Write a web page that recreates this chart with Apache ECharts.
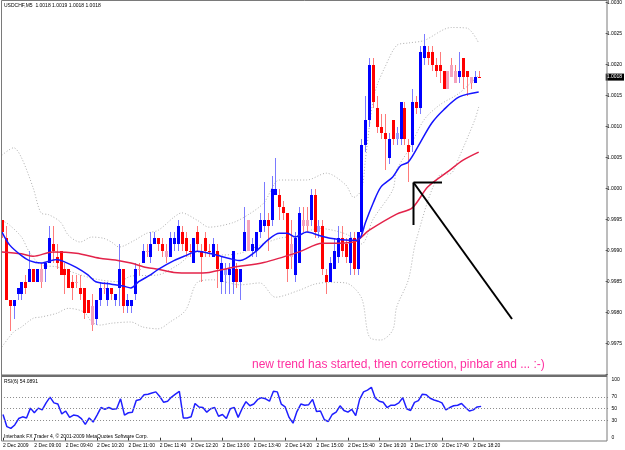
<!DOCTYPE html>
<html><head><meta charset="utf-8">
<script src="https://cdn.jsdelivr.net/npm/echarts@6/dist/echarts.min.js"></script>
<style>html,body{margin:0;padding:0;background:#fff}#c{width:625px;height:450px}</style>
</head><body><div id="c"></div>
<script>
// ---------- data ----------
const symbolName = 'USDCHF,M5';
const xTickLabels = ['2 Dec 2009','2 Dec 09:00','2 Dec 09:40','2 Dec 10:20','2 Dec 11:00','2 Dec 11:40','2 Dec 12:20','2 Dec 13:00','2 Dec 13:40','2 Dec 14:20','2 Dec 15:00','2 Dec 15:40','2 Dec 16:20','2 Dec 17:00','2 Dec 17:40','2 Dec 18:20'];
const opens = [0.9995,0.9992,0.9982,0.9981,0.9983,0.9983,0.9985,0.9985,0.9987,0.9985,0.9987,0.9987,0.9988,0.9991,0.9989,0.9990,0.9987,0.9987,0.9985,0.9985,
0.9984,0.9984,0.9982,0.9981,0.9979,0.9982,0.9984,0.9982,0.9984,0.9982,0.9984,0.9987,0.9981,0.9981,0.9983,0.9987,0.9988,0.9990,0.9989,0.9991,
0.9992,0.9991,0.9990,0.9989,0.9991,0.9991,0.9993,0.9992,0.9990,0.9988,0.9993,0.9990,0.9992,0.9990,0.9989,0.9990,0.9985,0.9986,0.9986,0.9985,
0.9987,0.9985,0.9990,0.9995,0.9990,0.9990,0.9993,0.9994,0.9995,0.9995,0.9999,0.9999,0.9997,0.9996,0.9991,0.9986,0.9988,0.9995,0.9995,0.9995,
0.9999,0.9993,0.9994,0.9986,0.9985,0.9987,0.9989,0.9992,0.9991,0.9988,0.9992,0.9987,0.9993,1.0007,1.0011,1.0020,1.0013,1.0010,1.0009,1.0005,
1.0011,1.0008,1.0008,1.0013,1.0007,1.0007,1.0014,1.0013,1.0021,1.0022,1.0022,1.0020,1.0020,1.0019,1.0019,1.0020,1.0019,1.0018,1.0021,1.0019,
1.0018,1.0017,1.0018];
const highs = [0.9995,0.9994,0.9982,0.9982,0.9984,0.9985,0.9986,0.9990,0.9987,0.9987,0.9988,0.9988,0.9994,0.9994,0.9991,0.9990,0.9988,0.9987,0.9986,0.9986,
0.9986,0.9984,0.9982,0.9983,0.9982,0.9985,0.9985,0.9985,0.9984,0.9983,0.9991,0.9987,0.9983,0.9982,0.9988,0.9988,0.9991,0.9991,0.9993,0.9993,
0.9992,0.9992,0.9991,0.9993,0.9993,0.9995,0.9994,0.9993,0.9991,0.9992,0.9994,0.9991,0.9993,0.9991,0.9992,0.9991,0.9989,0.9988,0.9988,0.9990,
0.9988,0.9987,0.9997,0.9995,0.9992,0.9993,0.9996,1.0001,0.9996,1.0002,1.0005,1.0000,0.9998,0.9996,0.9995,0.9993,0.9997,0.9997,0.9997,1.0000,
1.0000,0.9995,0.9995,0.9987,0.9989,0.9992,0.9994,0.9994,0.9992,0.9993,0.9993,0.9993,1.0008,1.0015,1.0021,1.0021,1.0015,1.0012,1.0012,1.0009,
1.0011,1.0010,1.0014,1.0014,1.0008,1.0016,1.0015,1.0023,1.0025,1.0023,1.0023,1.0021,1.0022,1.0019,1.0019,1.0021,1.0020,1.0022,1.0021,1.0019,
1.0018,1.0019,1.0019];
const lows = [0.9992,0.9982,0.9977,0.9979,0.9982,0.9982,0.9983,0.9985,0.9985,0.9985,0.9984,0.9985,0.9988,0.9988,0.9987,0.9986,0.9983,0.9984,0.9982,0.9984,
0.9982,0.9979,0.9980,0.9977,0.9978,0.9981,0.9983,0.9981,0.9982,0.9981,0.9981,0.9980,0.9980,0.9980,0.9982,0.9986,0.9988,0.9989,0.9988,0.9991,
0.9990,0.9989,0.9988,0.9989,0.9990,0.9990,0.9990,0.9989,0.9989,0.9988,0.9990,0.9985,0.9989,0.9989,0.9989,0.9984,0.9983,0.9983,0.9983,0.9983,
0.9984,0.9982,0.9990,0.9990,0.9989,0.9989,0.9992,0.9993,0.9990,0.9994,0.9999,0.9995,0.9995,0.9985,0.9987,0.9985,0.9988,0.9993,0.9993,0.9994,
0.9992,0.9992,0.9986,0.9983,0.9985,0.9987,0.9988,0.9989,0.9988,0.9986,0.9986,0.9986,0.9992,1.0006,1.0010,1.0013,1.0009,1.0008,1.0003,1.0004,
1.0007,1.0007,1.0007,1.0007,1.0001,1.0006,1.0012,1.0012,1.0020,1.0020,1.0019,1.0018,1.0017,1.0016,1.0016,1.0018,1.0017,1.0017,1.0016,1.0015,
1.0016,1.0017,1.0018];
const closes = [0.9993,0.9982,0.9981,0.9982,0.9984,0.9985,0.9984,0.9987,0.9985,0.9987,0.9985,0.9988,0.9992,0.9990,0.9988,0.9986,0.9986,0.9984,0.9984,0.9985,
0.9983,0.9980,0.9980,0.9978,0.9982,0.9984,0.9984,0.9984,0.9983,0.9983,0.9987,0.9981,0.9982,0.9982,0.9987,0.9987,0.9990,0.9990,0.9991,0.9992,
0.9991,0.9990,0.9989,0.9992,0.9992,0.9994,0.9991,0.9990,0.9990,0.9992,0.9991,0.9989,0.9990,0.9990,0.9991,0.9987,0.9988,0.9987,0.9987,0.9990,
0.9985,0.9987,0.9993,0.9990,0.9991,0.9993,0.9995,0.9995,0.9994,1.0000,1.0000,0.9997,0.9996,0.9987,0.9989,0.9992,0.9996,0.9994,0.9994,0.9999,
0.9993,0.9994,0.9987,0.9985,0.9988,0.9990,0.9992,0.9990,0.9989,0.9992,0.9987,0.9993,1.0007,1.0011,1.0020,1.0014,1.0010,1.0009,1.0008,1.0008,
1.0008,1.0009,1.0014,1.0008,1.0006,1.0014,1.0013,1.0022,1.0023,1.0021,1.0020,1.0019,1.0019,1.0016,1.0016,1.0018,1.0017,1.0019,1.0018,1.0018,
1.0017,1.0018,1.0018];
const paleBars = [10,19,23,26,35,37,42,57,63,74,77,78,81,101,114,115,116,120];

const maFast = [[0,0.99930],[2,0.99909],[5,0.99892],[7,0.99884],[10,0.99880],[14,0.99886],[16,0.99882],[19,0.99873],[22,0.99861],[24,0.99850],[28,0.99846],[31,0.99843],[33,0.99840],[35,0.99850],[38,0.99861],[40,0.99870],[44,0.99884],[47,0.99892],[50,0.99899],[53,0.99896],[56,0.99891],[59,0.99886],[61,0.99884],[65,0.99899],[68,0.99917],[71,0.99928],[73,0.99928],[75,0.99922],[78,0.99930],[81,0.99925],[84,0.99920],[89,0.99917],[91,0.99917],[92,0.99925],[93,0.99945],[95,0.99977],[97,1.00003],[100,1.00019],[102,1.00037],[104,1.00043],[107,1.00074],[110,1.00106],[113,1.00127],[117,1.00148],[122,1.00156]];
const maSlow = [[0,0.99898],[5,0.99895],[8,0.99891],[13,0.99898],[19,0.99896],[25,0.99888],[29,0.99885],[33,0.99880],[37,0.99873],[40,0.99870],[44,0.99865],[49,0.99864],[53,0.99865],[59,0.99873],[67,0.99881],[76,0.99898],[82,0.99912],[84,0.99912],[90,0.99914],[94,0.99933],[101,0.99959],[105,0.99969],[109,1.00003],[114,1.00027],[118,1.00046],[122,1.00059]];
const bandUpper = [[0,1.00054],[3,1.00066],[5,1.00050],[8,1.00001],[10,0.99961],[12,0.99958],[15,0.99946],[17,0.99925],[20,0.99914],[23,0.99922],[26,0.99920],[28,0.99914],[30,0.99906],[34,0.99917],[37,0.99928],[40,0.99933],[44,0.99954],[46,0.99961],[50,0.99949],[53,0.99938],[59,0.99945],[63,0.99958],[67,0.99977],[71,1.00014],[75,1.00014],[78,1.00014],[83,1.00025],[88,1.00006],[90,0.99986],[92,0.99998],[93,1.00046],[94,1.00099],[95,1.00143],[96,1.00167],[98,1.00196],[101,1.00231],[104,1.00235],[108,1.00239],[115,1.00260],[119,1.00259],[122,1.00235]];
const bandMiddle = [[0,0.99949],[2,0.99941],[5,0.99922],[7,0.99898],[10,0.99877],[14,0.99874],[20,0.99861],[25,0.99853],[30,0.99850],[33,0.99859],[40,0.99861],[45,0.99877],[50,0.99898],[56,0.99893],[61,0.99896],[66,0.99909],[71,0.99920],[76,0.99925],[81,0.99936],[88,0.99927],[92,0.99911],[95,0.99951],[100,0.99998],[101,1.00030],[104,1.00062],[108,1.00111],[112,1.00135],[117,1.00154],[122,1.00183]];
const bandLower = [[0,0.99745],[3,0.99769],[5,0.99777],[8,0.99791],[10,0.99793],[14,0.99799],[17,0.99807],[21,0.99801],[23,0.99785],[25,0.99780],[28,0.99783],[33,0.99785],[36,0.99777],[40,0.99774],[43,0.99785],[47,0.99804],[50,0.99849],[54,0.99853],[61,0.99845],[66,0.99848],[70,0.99825],[76,0.99836],[80,0.99846],[84,0.99849],[88,0.99848],[92,0.99824],[94,0.99761],[97,0.99756],[100,0.99772],[101,0.99809],[104,0.99853],[106,0.99917],[112,1.00022],[115,1.00025],[117,1.00051],[121,1.00111],[122,1.00132]];
const rsi = [40,19,16,22,33,36,34,51,43,51, 48,60,70,60,58,41,46,35,39,38, 33,23,34,27,39,52,49,52,49,50,
 67,39,43,44,64,66,74,75,77,79, 71,61,63,70,75,80,34,34,36,59, 53,52,44,50,52,37,40,33,50,52,
 35,50,62,55,58,66,69,67,63,80, 79,58,53,35,25,45,58,56,57,66, 45,46,31,28,40,44,55,47,44,49,
 38,66,79,82,87,68,63,61,52,56, 56,60,69,50,47,61,64,75,74,68, 65,63,60,48,52,55,56,59,52,46, 48,53,54];
const rsiLevels = [30,50,70];
const rsiAxisLabels = [0,30,50,70,100];
const rsiTitle = 'RSI(6) 54.0891';
const copyright = 'Interbank FX Trader 4, \u00a9 2001-2009 MetaQuotes Software Corp.';
const note = 'new trend has started, then correction, pinbar and ... :-)';

// ---------- chart ----------
const N = 155;
const cats = Array.from({length: N}, (_, i) => String(i));
const candleData = opens.map((o, i) => [i, o, highs[i], lows[i], closes[i]]);
const paleSet = new Set(paleBars);
const last = closes.length - 1;
const F = '"Liberation Sans", Arial, sans-serif';
const titleText = symbolName + '  ' + [opens[last], highs[last], lows[last], closes[last]].map(v => v.toFixed(4)).join(' ');
const showTick = (i) => i % 8 === 0 && i / 8 < xTickLabels.length;

const chart = echarts.init(document.getElementById('c'));
chart.setOption({
  animation: false,
  backgroundColor: '#ffffff',
  grid: [
    {left: 0, right: 16.5, top: 2.7, height: 372},
    {left: 0, right: 16.5, top: 379.7, height: 58}
  ],
  xAxis: [
    {type: 'category', gridIndex: 0, data: cats, boundaryGap: true, show: false},
    {type: 'category', gridIndex: 1, data: cats, boundaryGap: true, offset: 3,
     axisLine: {show: false},
     axisTick: {show: true, alignWithLabel: true, interval: showTick, length: 3, lineStyle: {color: '#333'}},
     axisLabel: {interval: showTick, formatter: (v, i) => xTickLabels[i / 8] || '', align: 'left',
                 fontSize: 5, color: '#000', margin: 2, fontFamily: F}}
  ],
  yAxis: [
    {type: 'value', gridIndex: 0, position: 'right', min: 0.9970, max: 1.0030, interval: 0.0005,
     splitLine: {show: false}, axisLine: {show: false},
     axisTick: {show: true, length: 2, lineStyle: {color: '#333'}},
     axisLabel: {formatter: v => v < 0.99725 ? '' : v.toFixed(4), fontSize: 5, color: '#000', margin: 1, fontFamily: F}},
    {type: 'value', gridIndex: 1, position: 'right', min: 0, max: 100, interval: 10,
     splitLine: {show: false}, axisLine: {show: false}, axisTick: {show: false},
     axisLabel: {formatter: v => rsiAxisLabels.includes(v) ? String(v) : '', fontSize: 5, color: '#000', margin: 3, fontFamily: F}}
  ],
  series: [
    {type: 'line', name: 'bandUpper', xAxisIndex: 0, yAxisIndex: 0, data: bandUpper, smooth: 0.3, symbol: 'none',
     lineStyle: {color: '#b0b0b0', width: 1, type: [1, 2]}, z: 1},
    {type: 'line', name: 'bandMiddle', xAxisIndex: 0, yAxisIndex: 0, data: bandMiddle, smooth: 0.3, symbol: 'none',
     lineStyle: {color: '#b0b0b0', width: 1, type: [1, 2]}, z: 1},
    {type: 'line', name: 'bandLower', xAxisIndex: 0, yAxisIndex: 0, data: bandLower, smooth: 0.3, symbol: 'none',
     lineStyle: {color: '#b0b0b0', width: 1, type: [1, 2]}, z: 1},
    {type: 'custom', name: 'candles', xAxisIndex: 0, yAxisIndex: 0, data: candleData, clip: true, z: 2,
     encode: {x: 0, y: [1, 2, 3, 4]},
     renderItem: (params, api) => {
       const i = api.value(0), o = api.value(1), h = api.value(2), l = api.value(3), c = api.value(4);
       const pH = api.coord([i, h]), pL = api.coord([i, l]), pO = api.coord([i, o]), pC = api.coord([i, c]);
       const x = Math.round(pH[0]);
       const bull = c > o;
       const pale = paleSet.has(i);
       const body = bull ? (pale ? '#9c9cff' : '#0000ff') : (pale ? '#f4a3bd' : '#ff0000');
       const wick = bull ? '#7a7aff' : '#ff7a7a';
       const top = Math.round(Math.min(pO[1], pC[1])), bot = Math.round(Math.max(pO[1], pC[1]));
       const yh = Math.round(pH[1]), yl = Math.round(pL[1]);
       return {type: 'group', children: [
         {type: 'rect', shape: {x: x, y: yh, width: 1, height: Math.max(1, yl - yh)}, style: {fill: wick}},
         {type: 'rect', shape: {x: x - 1, y: top, width: 3, height: Math.max(1, bot - top)}, style: {fill: body}}
       ]};
     }
    },
    {type: 'line', name: 'maSlow', xAxisIndex: 0, yAxisIndex: 0, data: maSlow, smooth: 0.3, symbol: 'none',
     lineStyle: {color: '#e3234a', width: 1.5}, z: 3},
    {type: 'line', name: 'maFast', xAxisIndex: 0, yAxisIndex: 0, data: maFast, smooth: 0.3, symbol: 'none',
     lineStyle: {color: '#1515ff', width: 1.5}, z: 4,
     markLine: {silent: true, symbol: 'none', precision: 4, lineStyle: {color: 'rgba(0,0,0,0)', width: 0},
       label: {position: 'end', formatter: closes[last].toFixed(4), backgroundColor: '#000', color: '#fff',
               fontSize: 5, fontFamily: F, padding: [1, 2, 1, 1], distance: 0},
       data: [{yAxis: closes[last]}]}},
    {type: 'line', name: 'rsi', xAxisIndex: 1, yAxisIndex: 1, data: rsi, symbol: 'none',
     lineStyle: {color: '#1f1fff', width: 1.5}, z: 4,
     markLine: {silent: true, symbol: 'none', label: {show: false},
       lineStyle: {color: '#8a8a8a', width: 1, type: [1, 2]},
       data: rsiLevels.map(v => ({yAxis: v}))}}
  ],
  graphic: [
    {type: 'rect', z: 100, shape: {x: 1.5, y: 0.5, width: 605.5, height: 440.5}, style: {fill: 'none', stroke: '#7a7a7a', lineWidth: 1}},
    {type: 'rect', z: 100, shape: {x: 2, y: 374.5, width: 605, height: 2.5}, style: {fill: '#6e6e6e'}},
    {type: 'text', z: 100, x: 4, y: 5.5, style: {text: titleText, font: '5px ' + F, fill: '#000', verticalAlign: 'middle', textVerticalAlign: 'middle'}},
    {type: 'text', z: 100, x: 4, y: 381.5, style: {text: rsiTitle, font: '5px ' + F, fill: '#000', verticalAlign: 'middle', textVerticalAlign: 'middle'}},
    {type: 'text', z: 100, x: 4, y: 437, style: {text: copyright, font: '5px ' + F, fill: '#000', verticalAlign: 'middle', textVerticalAlign: 'middle'}},
    {type: 'text', z: 100, x: 252, y: 365, style: {text: note, font: '12px ' + F, fill: '#ff2fa0', verticalAlign: 'middle', textVerticalAlign: 'middle'}},
    {type: 'line', z: 100, shape: {x1: 413.5, y1: 182.5, x2: 413.5, y2: 225}, style: {stroke: '#000', lineWidth: 2}},
    {type: 'line', z: 100, shape: {x1: 413.5, y1: 182.5, x2: 442, y2: 182.5}, style: {stroke: '#000', lineWidth: 2}},
    {type: 'line', z: 100, shape: {x1: 413.5, y1: 182.5, x2: 512, y2: 319}, style: {stroke: '#000', lineWidth: 2}}
  ]
});
</script>
</body></html>
